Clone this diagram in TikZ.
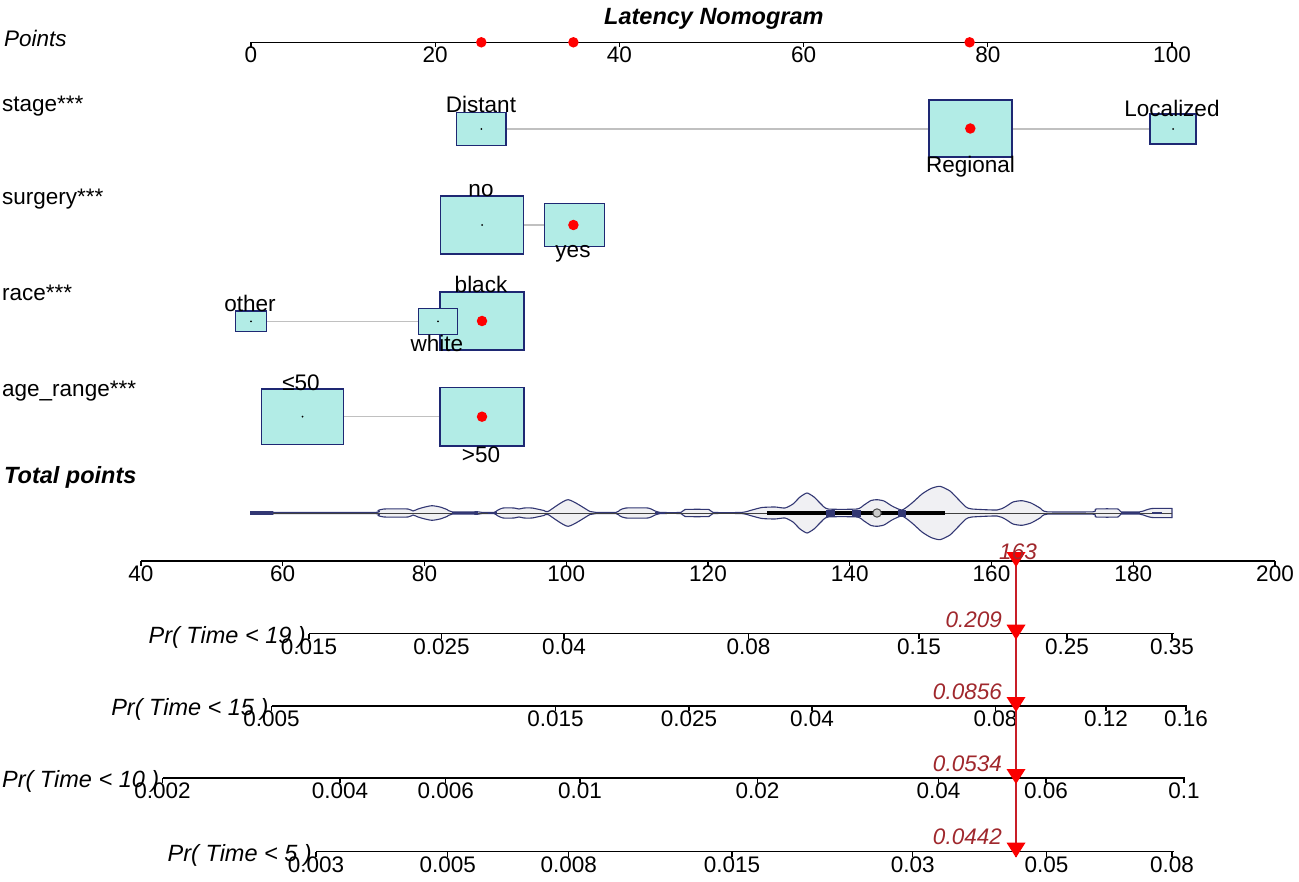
\documentclass[tikz,border=0pt]{standalone}
\usepackage{fontspec}
\setmainfont{Liberation Sans}
\pgfdeclarelayer{bg}
\pgfdeclarelayer{lines}
\pgfsetlayers{bg,lines,main}
\definecolor{boxfillc}{RGB}{178,236,230}
\definecolor{boxlinec}{RGB}{30,40,115}
\definecolor{voutc}{RGB}{50,55,115}
\definecolor{vfillc}{RGB}{240,240,243}
\definecolor{connc}{RGB}{192,192,192}
\definecolor{redlnc}{RGB}{200,30,40}
\definecolor{redtxtc}{RGB}{160,40,45}
\definecolor{redmkc}{RGB}{250,0,0}
\newcommand{\fsn}{\fontsize{22.5}{27}\selectfont}
\newcommand{\fsb}{\fontsize{23.5}{28}\selectfont}
\newcommand{\vprofile}{(250,-1.2) (273,-1.2) (276,-0.6) (374,-0.6) (378,-2.5) (384,-4) (408,-4) (413,-2) (418,-4) (425,-6) (432,-7.3) (440,-6) (447,-3.5) (452,-1.2) (478,-1.2) (482,-0.6) (494,-0.6) (498,-3) (503,-5) (514,-5) (519,-4) (524,-5) (532,-5) (537,-4) (544,-2.5) (548,-1.5) (568,-13.3) (590,-1.5) (596,-0.6) (616,-0.6) (620,-3) (626,-5) (648,-5) (654,-2.5) (660,-0.6) (681,-0.6) (685,-3.5) (709,-3.5) (713,-0.6) (742,-0.6) (752,-3) (762,-5.5) (775,-6) (785,-5) (793,-9) (800,-16) (807,-20) (814,-16) (821,-9) (828,-4) (857,-4) (864,-8) (871,-12.5) (877,-13.3) (884,-12) (892,-7) (902,-3) (912,-10) (922,-19) (931,-24.5) (940,-26.7) (950,-22) (958,-14) (966,-6) (972,-4) (997,-3) (1005,-6) (1013,-11) (1022,-12.3) (1031,-10) (1040,-5) (1047,-1.2) (1093,-1.2) (1096,-4) (1118,-4) (1121,-1.2) (1140,-1.2) (1146,-3) (1152,-4.5) (1172,-4.7)}
\newcommand{\vhalf}{%
  \fill[vfillc] plot[smooth,tension=0.35] coordinates {\vprofile} -- (1172,0) -- (250,0) -- cycle;
  \draw[voutc,line width=1.1pt,line join=round] plot[smooth,tension=0.35] coordinates {\vprofile} -- (1172,0);
}
\begin{document}
\begin{tikzpicture}[x=1pt,y=-1pt,
  lab/.style={font=\fsn, inner sep=0pt, text=black},
  ilab/.style={font=\fsn\itshape, inner sep=0pt, text=black},
  biglab/.style={font=\fsb\bfseries\itshape, inner sep=0pt, text=black},
  prlab/.style={font=\fsb\itshape, inner sep=0pt, text=black, anchor=base east},
  vlab/.style={font=\fsn\itshape, inner sep=0pt, text=redtxtc},
  catbox/.style={draw=boxlinec, fill=boxfillc, line width=1.4pt, inner sep=0pt, rectangle},
  cdot/.style={circle, fill=black, inner sep=0pt, minimum size=2pt},
  rdot/.style={circle, fill=red, inner sep=0pt, minimum size=10.5pt},
  conn/.style={draw=connc, line width=1.2pt},
  ax/.style={draw=black, line width=1.3pt},
  redln/.style={draw=redlnc, line width=1.3pt},
  redmk/.style={fill=redmkc}]
\begin{pgfonlayer}{bg}
\fill[white] (0,0) rectangle (1299,882);
\end{pgfonlayer}
\useasboundingbox (0,0) rectangle (1299,882);

% title and left labels
\node[biglab, anchor=base west] (title) at (604,25) {Latency Nomogram};
\node[ilab, anchor=base west] (lpoints) at (4,46.5) {Points};
\node[lab, anchor=base west] (lstage) at (2,112) {stage***};
\node[lab, anchor=base west] (lsurg) at (2,205) {surgery***};
\node[lab, anchor=base west] (lrace) at (2,301) {race***};
\node[lab, anchor=base west] (lage) at (2,396.5) {age\_range***};
\node[biglab, anchor=base west] (ltotal) at (4,483) {Total points};

% points axis
\draw[ax] (251,42.3) -- (1172,42.3);
\foreach \x/\t [count=\i] in {251/0,435.2/20,619.4/40,803.6/60,987.8/80,1172/100} {
  \draw[ax] (\x,42.3) -- (\x,47.5);
  \node[lab, anchor=base] (pt\i) at (\x,62.8) {\t};
}
\node[rdot] (pd1) at (481.3,42.3) {};
\node[rdot] (pd2) at (573.4,42.3) {};
\node[rdot] (pd3) at (969.6,42.3) {};

% stage
\node[catbox, minimum width=49.7pt, minimum height=33pt] (distant) at (481.3,129) {};
\node[catbox, minimum width=83pt, minimum height=56.7pt] (regional) at (970.3,128.5) {};
\node[catbox, minimum width=46pt, minimum height=30pt] (localized) at (1173,129) {};
\begin{pgfonlayer}{lines}
\draw[conn] (distant.center) -- (localized.center);
\end{pgfonlayer}
\node[cdot] (distantc) at (distant.center) {};
\node[cdot] (localizedc) at (localized.center) {};
\node[rdot] (regionalr) at (regional.center) {};
\node[lab, anchor=base] (tdist) at (481,113) {Distant};
\node[lab, anchor=base] (tloc) at (1172,116.5) {Localized};
\node[lab, anchor=base] (treg) at (970.5,173) {Regional};

% surgery
\node[catbox, minimum width=83pt, minimum height=58pt] (sno) at (482,225) {};
\node[catbox, minimum width=60pt, minimum height=43pt] (syes) at (574.5,225) {};
\begin{pgfonlayer}{lines}
\draw[conn] (sno.center) -- (syes.center);
\end{pgfonlayer}
\node[cdot] (snoc) at (sno.center) {};
\node[rdot] (syesr) at (573.4,225) {};
\node[lab, anchor=base] (tno) at (481,196.5) {no};
\node[lab, anchor=base] (tyes) at (573,258) {yes};

% race
\node[catbox, minimum width=30.7pt, minimum height=20.7pt] (rother) at (251,321.3) {};
\node[catbox, minimum width=84pt, minimum height=57.7pt] (rblack) at (482,321) {};
\node[catbox, minimum width=39.4pt, minimum height=26pt] (rwhite) at (438,321.3) {};
\begin{pgfonlayer}{lines}
\draw[conn] (rother.center) -- (rwhite.center);
\end{pgfonlayer}
\node[cdot] (rotherc) at (rother.center) {};
\node[cdot] (rwhitec) at (rwhite.center) {};
\node[rdot] (rblackr) at (482,321) {};
\node[lab, anchor=base] (tblack) at (481,293) {black};
\node[lab, anchor=base] (tother) at (250,311.5) {other};
\node[lab, anchor=base] (twhite) at (437,351.5) {white};

% age range
\node[catbox, minimum width=82pt, minimum height=55.3pt] (ale) at (302.5,416.7) {};
\node[catbox, minimum width=84pt, minimum height=58.7pt] (agt) at (482,416.7) {};
\begin{pgfonlayer}{lines}
\draw[conn] (ale.center) -- (agt.center);
\end{pgfonlayer}
\node[cdot] (alec) at (ale.center) {};
\node[rdot] (agtr) at (482,416.7) {};
\node[lab, anchor=base] (tle) at (301,391) {≤50};
\node[lab, anchor=base] (tgt) at (481,463) {>50};

% violin of total points
\begin{scope}[shift={(0,513)}]
\vhalf
\end{scope}
\begin{scope}[shift={(0,513)},yscale=-1]
\vhalf
\end{scope}
\draw[draw=black!75, line width=0.9pt] (250,513) -- (1172,513);
\foreach \a/\b in {250/273,452/478,488/497,655/665,1121/1140,1152/1162} {
  \draw[voutc, line width=2.6pt] (\a,513) -- (\b,513);
}
\draw[black, line width=4pt] (767,513) -- (945,513);
\fill[voutc] (826,509.5) rectangle (835,516.5);
\fill[voutc] (852,509.5) rectangle (861,516.5);
\fill[voutc] (898,509.5) rectangle (906,516.5);
\draw[fill=black!20, draw=black!70, line width=1pt] (877,513) circle (4.2);

% total points axis
\draw[ax] (141,561) -- (1275,561);
\foreach \x/\t [count=\i] in {141/40,282.75/60,424.5/80,566.25/100,708/120,849.75/140,991.5/160,1133.25/180,1275/200} {
  \draw[ax] (\x,561) -- (\x,566);
  \node[lab, anchor=base] (tp\i) at (\x,581.5) {\t};
}

% Pr(Time < 19)
\draw[ax] (309,633.7) -- (1174,633.7);
\node[prlab] (pr19) at (306,643.2) {Pr( Time < 19 )};
\foreach \x/\t [count=\i] in {309/0.015,441.5/0.025,564/0.04,748.5/0.08,919/0.15,1067/0.25,1172/0.35} {
  \draw[ax] (\x,633.7) -- (\x,638.7);
  \node[lab, anchor=base] (pa\i) at (\x,654.2) {\t};
}
% Pr(Time < 15)
\draw[ax] (271.6,706) -- (1187,706);
\node[prlab] (pr15) at (268.6,715.5) {Pr( Time < 15 )};
\foreach \x/\t [count=\i] in {271.6/0.005,555.6/0.015,689/0.025,812/0.04,995.6/0.08,1106/0.12,1186/0.16} {
  \draw[ax] (\x,706) -- (\x,711);
  \node[lab, anchor=base] (pb\i) at (\x,726.5) {\t};
}
% Pr(Time < 10)
\draw[ax] (162.5,778) -- (1185,778);
\node[prlab] (pr10) at (159.5,787.5) {Pr( Time < 10 )};
\foreach \x/\t [count=\i] in {162.5/0.002,340/0.004,445.7/0.006,580/0.01,757.6/0.02,938.5/0.04,1046/0.06,1184/0.1} {
  \draw[ax] (\x,778) -- (\x,783);
  \node[lab, anchor=base] (pc\i) at (\x,798.5) {\t};
}
% Pr(Time < 5)
\draw[ax] (316,851.6) -- (1174,851.6);
\node[prlab] (pr5) at (312,861.1) {Pr( Time < 5 )};
\foreach \x/\t [count=\i] in {316/0.003,447.8/0.005,568.8/0.008,732/0.015,912.8/0.03,1046.5/0.05,1172/0.08} {
  \draw[ax] (\x,851.6) -- (\x,856.6);
  \node[lab, anchor=base] (pd\i x) at (\x,872.1) {\t};
}

% observation line and markers
\coordinate (rtop) at (1016,561);
\coordinate (rbot) at (1016,857);
\draw[redln] (rtop) -- (rbot);
\foreach \yy in {561,633.7,706,778,851.6} {
  \fill[redmk] (1006.5,\yy-9) -- (1025.5,\yy-9) -- (1016,\yy+6) -- cycle;
}
\node[vlab, anchor=base] (v163) at (1018,559) {163};
\node[vlab, anchor=base east] (v209) at (1002,627) {0.209};
\node[vlab, anchor=base east] (v0856) at (1002,699.3) {0.0856};
\node[vlab, anchor=base east] (v0534) at (1002,771.3) {0.0534};
\node[vlab, anchor=base east] (v0442) at (1002,844.9) {0.0442};
\end{tikzpicture}
\end{document}
